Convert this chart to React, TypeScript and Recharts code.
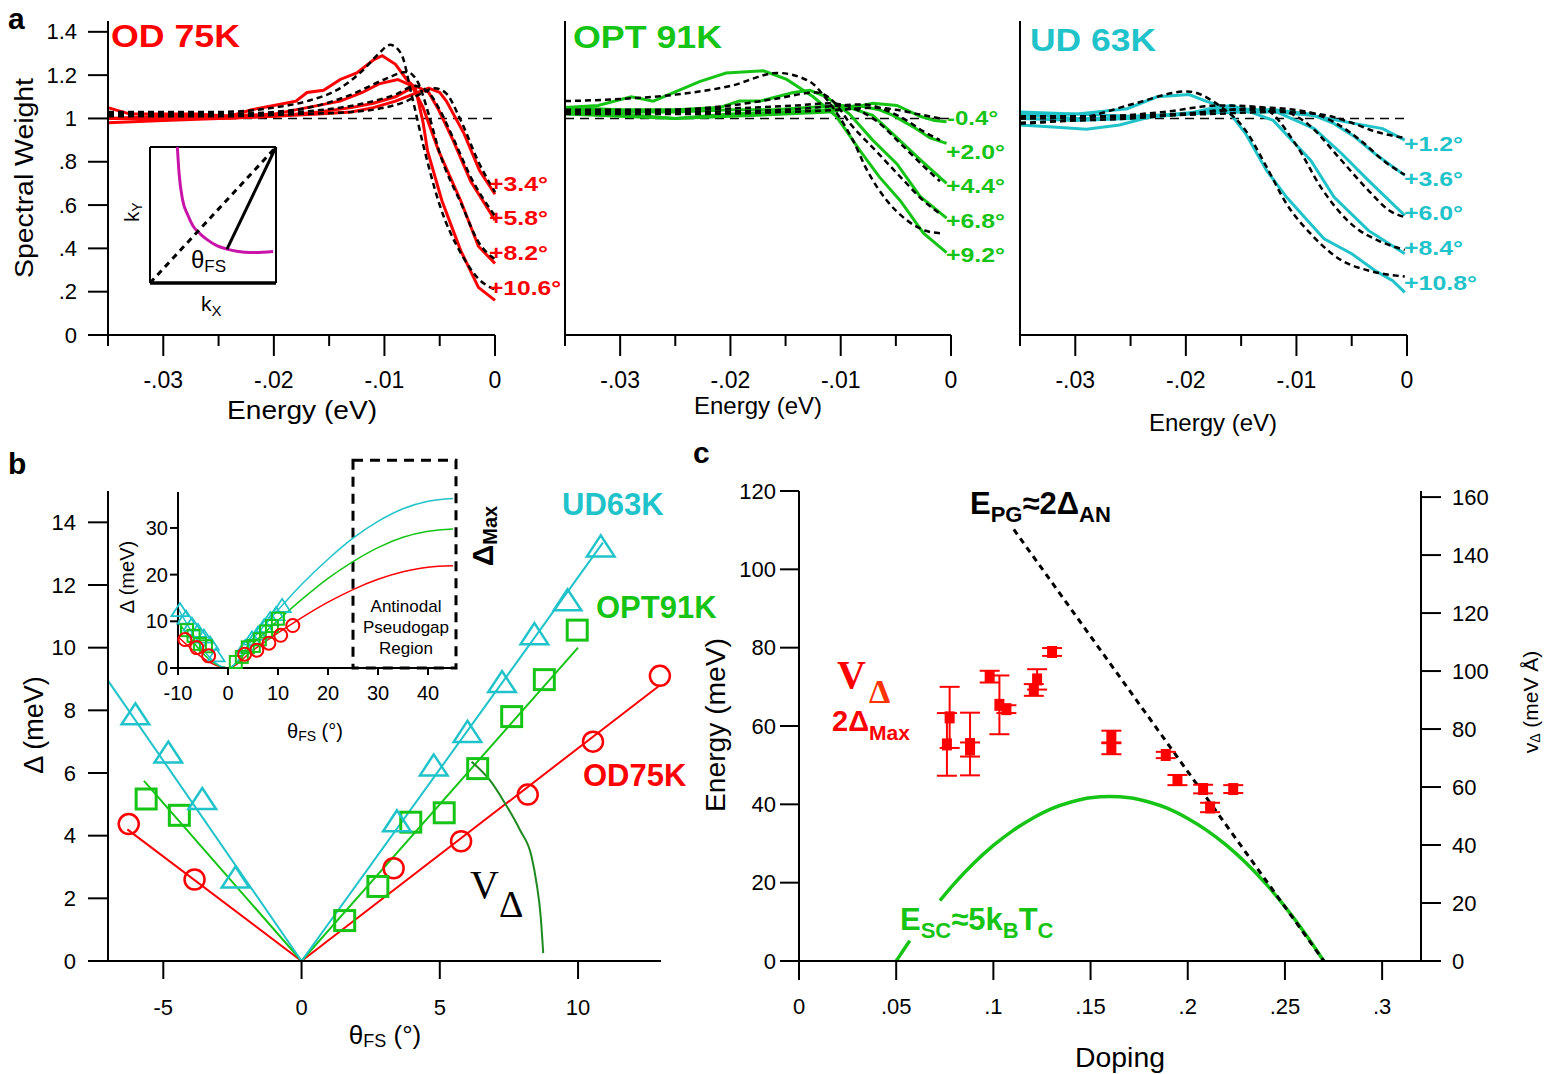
import React from "react";
import {
  ComposedChart,
  LineChart,
  Line,
  Scatter,
  XAxis,
  YAxis,
  ReferenceLine,
  ReferenceArea,
  ErrorBar,
} from "recharts";

const RED = "#ff0000";
const GREEN = "#16c416";
const CYAN = "#1fc3c9";
const MAGENTA = "#c814a8";
const DARK_GREEN = "#1f8a1f";
const FONT = '"Liberation Sans", Arial, Helvetica, sans-serif';
const SERIF = '"Liberation Serif", "Times New Roman", serif';

type P = [number, number | null];
const pts = (a: P[]) => a.map(([x, y]) => ({ x, y }));

// ---------- panel a : spectral weight vs energy (eV) ----------
const energyTicks = [-0.035, -0.03, -0.025, -0.02, -0.015, -0.01, -0.005, 0];
const swTicks = [0, 0.2, 0.4, 0.6, 0.8, 1, 1.2, 1.4];

// OD 75K
const od34: P[] = [[-0.035, 1.0], [-0.03, 1.0], [-0.025, 1.0], [-0.02, 1.01], [-0.016, 1.02], [-0.013, 1.03], [-0.011, 1.05], [-0.009, 1.08], [-0.0075, 1.11], [-0.006, 1.14], [-0.005, 1.12], [-0.0044, 1.08], [-0.0028, 0.93], [-0.0014, 0.76], [0, 0.65]];
const od34Fit: P[] = [[-0.035, 1.01], [-0.025, 1.01], [-0.018, 1.02], [-0.013, 1.03], [-0.01, 1.05], [-0.008, 1.08], [-0.0065, 1.12], [-0.0055, 1.14], [-0.0045, 1.12], [-0.003, 0.98], [-0.0015, 0.8], [0, 0.66]];
const od58: P[] = [[-0.035, 0.98], [-0.03, 0.99], [-0.025, 1.0], [-0.02, 1.01], [-0.016, 1.03], [-0.013, 1.05], [-0.011, 1.07], [-0.009, 1.1], [-0.0072, 1.15], [-0.006, 1.12], [-0.0051, 1.04], [-0.0038, 0.9], [-0.0022, 0.71], [0, 0.53]];
const od58Fit: P[] = [[-0.035, 1.02], [-0.025, 1.02], [-0.018, 1.03], [-0.014, 1.05], [-0.011, 1.08], [-0.009, 1.11], [-0.0072, 1.15], [-0.006, 1.12], [-0.005, 1.04], [-0.0037, 0.9], [-0.0021, 0.72], [0, 0.55]];
const od82: P[] = [[-0.035, 1.0], [-0.03, 1.01], [-0.025, 1.01], [-0.02, 1.02], [-0.017, 1.05], [-0.014, 1.08], [-0.012, 1.12], [-0.0105, 1.16], [-0.0088, 1.18], [-0.0075, 1.15], [-0.0065, 1.05], [-0.0051, 0.85], [-0.0031, 0.62], [-0.0015, 0.41], [0, 0.33]];
const od82Fit: P[] = [[-0.035, 1.02], [-0.025, 1.02], [-0.02, 1.03], [-0.016, 1.06], [-0.013, 1.11], [-0.01, 1.18], [-0.008, 1.215], [-0.007, 1.17], [-0.006, 1.02], [-0.005, 0.84], [-0.003, 0.6], [-0.0015, 0.43], [0, 0.35]];
const od106: P[] = [[-0.035, 1.05], [-0.033, 1.02], [-0.03, 1.02], [-0.027, 1.02], [-0.024, 1.01], [-0.022, 1.04], [-0.02, 1.06], [-0.018, 1.08], [-0.017, 1.12], [-0.0155, 1.13], [-0.014, 1.18], [-0.0125, 1.21], [-0.011, 1.27], [-0.0102, 1.29], [-0.009, 1.25], [-0.008, 1.18], [-0.0072, 1.14], [-0.0065, 0.98], [-0.0061, 0.85], [-0.0048, 0.62], [-0.0031, 0.39], [-0.0015, 0.22], [0, 0.16]];
const od106Fit: P[] = [[-0.035, 1.03], [-0.03, 1.03], [-0.025, 1.03], [-0.02, 1.05], [-0.017, 1.08], [-0.014, 1.14], [-0.012, 1.22], [-0.0105, 1.3], [-0.0095, 1.34], [-0.0085, 1.3], [-0.0075, 1.1], [-0.0065, 0.88], [-0.005, 0.6], [-0.003, 0.37], [-0.0015, 0.26], [0, 0.21]];

// OPT 91K
const optM04: P[] = [[-0.035, 1.02], [-0.03, 1.01], [-0.025, 1.0], [-0.02, 1.01], [-0.015, 1.02], [-0.011, 1.03], [-0.009, 1.05], [-0.0071, 1.07], [-0.0049, 1.06], [-0.0028, 1.01], [-0.0015, 0.99], [-0.0004, 0.985]];
const optM04Fit: P[] = [[-0.035, 1.02], [-0.025, 1.02], [-0.015, 1.03], [-0.01, 1.04], [-0.007, 1.05], [-0.005, 1.04], [-0.003, 1.02], [-0.001, 1.0]];
const opt20: P[] = [[-0.035, 1.03], [-0.03, 1.02], [-0.025, 1.0], [-0.02, 1.02], [-0.015, 1.03], [-0.011, 1.04], [-0.0085, 1.06], [-0.0065, 1.04], [-0.0053, 1.015], [-0.0034, 0.96], [-0.0019, 0.91], [-0.0004, 0.885]];
const opt20Fit: P[] = [[-0.035, 1.03], [-0.025, 1.03], [-0.015, 1.04], [-0.01, 1.06], [-0.008, 1.065], [-0.006, 1.04], [-0.004, 0.99], [-0.0025, 0.94], [-0.001, 0.9]];
const opt44: P[] = [[-0.035, 1.04], [-0.03, 1.03], [-0.025, 1.03], [-0.02, 1.04], [-0.016, 1.04], [-0.013, 1.05], [-0.0098, 1.06], [-0.0071, 1.015], [-0.0053, 0.93], [-0.0028, 0.81], [-0.0004, 0.7]];
const opt44Fit: P[] = [[-0.035, 1.04], [-0.025, 1.04], [-0.018, 1.05], [-0.014, 1.06], [-0.011, 1.07], [-0.009, 1.05], [-0.0068, 0.99], [-0.0045, 0.88], [-0.0025, 0.78], [-0.001, 0.71]];
const opt68: P[] = [[-0.035, 1.05], [-0.03, 1.04], [-0.025, 1.04], [-0.021, 1.05], [-0.0192, 1.08], [-0.0173, 1.08], [-0.0143, 1.12], [-0.0128, 1.13], [-0.0113, 1.1], [-0.0092, 1.02], [-0.0071, 0.9], [-0.0049, 0.79], [-0.0028, 0.64], [-0.0004, 0.54]];
const opt68Fit: P[] = [[-0.035, 1.03], [-0.025, 1.04], [-0.02, 1.06], [-0.016, 1.09], [-0.0122, 1.12], [-0.0105, 1.07], [-0.0092, 0.98], [-0.0068, 0.85], [-0.0044, 0.72], [-0.0025, 0.62], [-0.001, 0.56]];
const opt92: P[] = [[-0.035, 1.05], [-0.032, 1.06], [-0.029, 1.1], [-0.027, 1.08], [-0.0228, 1.17], [-0.0204, 1.21], [-0.017, 1.22], [-0.0149, 1.18], [-0.0125, 1.1], [-0.0104, 1.01], [-0.0083, 0.855], [-0.0065, 0.73], [-0.0046, 0.62], [-0.0025, 0.47], [-0.0004, 0.38]];
const opt92Fit: P[] = [[-0.035, 1.08], [-0.03, 1.09], [-0.025, 1.11], [-0.02, 1.15], [-0.0157, 1.21], [-0.0128, 1.17], [-0.0113, 1.09], [-0.0089, 0.9], [-0.0076, 0.76], [-0.0058, 0.62], [-0.004, 0.53], [-0.0022, 0.48], [-0.001, 0.47]];

// UD 63K
const ud12: P[] = [[-0.035, 1.02], [-0.03, 1.0], [-0.025, 1.0], [-0.02, 1.02], [-0.015, 1.03], [-0.0118, 1.03], [-0.0087, 1.015], [-0.0047, 0.976], [-0.0022, 0.953], [-0.0002, 0.9]];
const ud12Fit: P[] = [[-0.035, 1.0], [-0.025, 1.01], [-0.018, 1.02], [-0.012, 1.03], [-0.008, 1.02], [-0.005, 0.98], [-0.0029, 0.94], [-0.0002, 0.91]];
const ud36: P[] = [[-0.035, 1.03], [-0.03, 1.02], [-0.025, 1.01], [-0.02, 1.02], [-0.016, 1.04], [-0.012, 1.04], [-0.0087, 1.02], [-0.0066, 0.976], [-0.0047, 0.914], [-0.0029, 0.837], [-0.0002, 0.737]];
const ud36Fit: P[] = [[-0.035, 1.0], [-0.025, 1.01], [-0.018, 1.03], [-0.013, 1.05], [-0.009, 1.03], [-0.0065, 0.98], [-0.004, 0.89], [-0.002, 0.8], [-0.0002, 0.74]];
const ud60: P[] = [[-0.035, 0.97], [-0.032, 0.96], [-0.029, 0.95], [-0.026, 0.97], [-0.023, 1.01], [-0.019, 1.03], [-0.016, 1.05], [-0.0118, 1.03], [-0.0084, 0.953], [-0.0059, 0.837], [-0.0035, 0.714], [-0.0002, 0.552]];
const ud60Fit: P[] = [[-0.035, 0.98], [-0.03, 0.99], [-0.025, 1.0], [-0.02, 1.02], [-0.016, 1.04], [-0.012, 1.04], [-0.009, 0.976], [-0.0062, 0.822], [-0.0035, 0.668], [-0.0016, 0.575], [-0.0002, 0.544]];
const ud84: P[] = [[-0.035, 1.0], [-0.03, 0.99], [-0.025, 1.0], [-0.02, 1.02], [-0.0175, 1.05], [-0.0158, 1.06], [-0.0121, 0.991], [-0.0087, 0.806], [-0.0066, 0.637], [-0.0035, 0.483], [-0.0002, 0.375]];
const ud84Fit: P[] = [[-0.035, 1.01], [-0.028, 1.01], [-0.022, 1.03], [-0.017, 1.06], [-0.0133, 1.053], [-0.0099, 0.868], [-0.0078, 0.683], [-0.0047, 0.498], [-0.0026, 0.436], [-0.0002, 0.393]];
const ud108: P[] = [[-0.035, 1.01], [-0.03, 1.02], [-0.0253, 1.045], [-0.0226, 1.1], [-0.0197, 1.11], [-0.0182, 1.08], [-0.0164, 1.05], [-0.0146, 0.93], [-0.0127, 0.76], [-0.0109, 0.637], [-0.009, 0.529], [-0.0075, 0.444], [-0.005, 0.375], [-0.0029, 0.298], [-0.0013, 0.251], [-0.0002, 0.197]];
const ud108Fit: P[] = [[-0.035, 0.976], [-0.029, 1.007], [-0.0247, 1.068], [-0.0199, 1.125], [-0.017, 1.06], [-0.0146, 0.945], [-0.0127, 0.776], [-0.0109, 0.606], [-0.0087, 0.467], [-0.0059, 0.344], [-0.0035, 0.298], [-0.0002, 0.27]];

// schematic inset of panel a (normalised box coordinates)
const fsCurve: P[] = [[0.217, 1.0], [0.231, 0.805], [0.259, 0.61], [0.3, 0.5], [0.344, 0.415], [0.4, 0.36], [0.456, 0.317], [0.53, 0.275], [0.611, 0.249], [0.7, 0.232], [0.794, 0.224], [0.977, 0.232]];
const diagCut: P[] = [[0, 0], [1, 1]];
const fsCut: P[] = [[0.611, 0.249], [1, 1]];

// ---------- panel b : gap vs Fermi-surface angle ----------
const udGap: P[] = [[-6.01, 7.84], [-4.82, 6.62], [-3.59, 5.14], [-2.39, 2.63], [3.45, 4.43], [4.78, 6.21], [6.0, 7.28], [7.25, 8.87], [8.42, 10.4], [9.62, 11.48], [10.82, 13.2]];
const optGap: P[] = [[-5.62, 5.17], [-4.42, 4.65], [1.56, 1.29], [2.76, 2.38], [3.95, 4.43], [5.16, 4.73], [6.37, 6.14], [7.6, 7.8], [8.78, 8.98], [9.97, 10.56]];
const odGap: P[] = [[-6.25, 4.37], [-3.87, 2.6], [3.33, 2.96], [5.77, 3.82], [8.18, 5.31], [10.54, 7.0], [12.96, 9.1]];
const udLine: P[] = [[-7, 8.95], [0, 0], [10.9, 13.35]];
const optLine: P[] = [[-5.7, 5.75], [0, 0], [10, 10]];
const odLine: P[] = [[-6.3, 4.2], [0, 0], [12.96, 8.8]];
const vDeltaCurve: P[] = [[6.15, 6.36], [6.81, 5.77], [7.36, 5.03], [7.9, 4.18], [8.32, 3.33], [8.5, 2.48], [8.65, 1.41], [8.74, 0.25]];

const udInsetExtra: P[] = [[-9.6, 12.3], [-8.4, 10.7], [-7.2, 9.2]];
const optInsetExtra: P[] = [[-8.2, 8.1], [-6.9, 6.9]];
const odInsetExtra: P[] = [[-8.6, 6.1]];
const udInsetLine: P[] = [[-10, 12.8], [0, 0], [5, 6.3], [10, 12.4], [15, 18.2], [20, 23.3], [25, 27.8], [30, 31.4], [35, 34.1], [40, 35.7], [45, 36.3]];
const optInsetLine: P[] = [[-10, 9.9], [0, 0], [5, 5.2], [10, 10.2], [15, 14.9], [20, 19.2], [25, 22.8], [30, 25.8], [35, 28.0], [40, 29.3], [45, 29.8]];
const odInsetLine: P[] = [[-10, 6.7], [0, 0], [5, 3.8], [10, 7.5], [15, 10.95], [20, 14.1], [25, 16.8], [30, 19.0], [35, 20.6], [40, 21.6], [45, 21.9]];

// ---------- panel c : energy scales vs doping ----------
const vdDoping = [0.0775, 0.0761, 0.088, 0.088, 0.0981, 0.1031, 0.1067, 0.1225, 0.1208, 0.1302, 0.1607, 0.1607, 0.1887, 0.1947, 0.2079, 0.2115, 0.2234];
const vdEnergy = [62.2, 55.3, 55.4, 54.0, 72.6, 65.4, 64.3, 71.9, 69.2, 78.9, 57.2, 54.3, 52.6, 46.2, 43.9, 39.2, 43.9];
const vdError = [7.8, 8.0, 8.0, 1.8, 1.5, 7.5, 1.0, 2.6, 1.5, 1.0, 1.6, 1.5, 0.8, 1.3, 1.1, 1.2, 1.0];
const epgLine: P[] = [[0.1105, 110.2], [0.27, 0]];
const escCurve: P[] = [[0.05, 0], [0.0535, 2.6], [0.057, 5.2], [0.064, null], [0.0725, 15.4], [0.08, 19.8], [0.09, 25.0], [0.1, 29.5], [0.11, 33.3], [0.12, 36.4], [0.13, 38.9], [0.14, 40.6], [0.15, 41.7], [0.16, 42.0], [0.17, 41.7], [0.18, 40.6], [0.19, 38.9], [0.2, 36.4], [0.21, 33.3], [0.22, 29.5], [0.23, 25.0], [0.24, 19.8], [0.25, 13.9], [0.26, 7.3], [0.27, 0]];
const dopingTicks = [0, 0.05, 0.1, 0.15, 0.2, 0.25, 0.3];
const energyMeVTicks = [0, 20, 40, 60, 80, 100, 120];
const velocityTicks = [0, 20, 40, 60, 80, 100, 120, 140, 160];

const vdPoints = vdDoping.map((x, i) => ({ x, y: vdEnergy[i], err: vdError[i] }));

// ---------- layout helpers ----------
const PL = 90, PR = 80, PB = 80;
function frame(l: number, t: number, r: number, b: number, rightAxis = false, PT = 20) {
  return {
    pos: { position: "absolute" as const, left: l - PL, top: t - PT },
    width: r - l + PL + PR,
    height: b - t + PT + PB,
    margin: { left: PL - 50, top: PT, right: rightAxis ? PR - 50 : PR, bottom: PB - 30 },
  };
}
const axisLine = { stroke: "#000", strokeWidth: 2 };

const bottomTick = (len: number, off: number, fs: number, fmt: (v: number) => string) => (p: any) => (
  <g>
    <line x1={p.x} y1={p.y} x2={p.x} y2={p.y + len} stroke="#000" strokeWidth={2} />
    <text x={p.x} y={p.y + off} textAnchor="middle" dominantBaseline="central" fontSize={fs} fill="#000">
      {fmt(p.payload.value)}
    </text>
  </g>
);
const leftTick = (len: number, off: number, fs: number, fmt: (v: number) => string) => (p: any) => (
  <g>
    <line x1={p.x} y1={p.y} x2={p.x - len} y2={p.y} stroke="#000" strokeWidth={2} />
    <text x={p.x - off} y={p.y} textAnchor="end" dominantBaseline="central" fontSize={fs} fill="#000">
      {fmt(p.payload.value)}
    </text>
  </g>
);
const rightTick = (len: number, off: number, fs: number, fmt: (v: number) => string) => (p: any) => (
  <g>
    <line x1={p.x} y1={p.y} x2={p.x + len} y2={p.y} stroke="#000" strokeWidth={2} />
    <text x={p.x + off} y={p.y} textAnchor="start" dominantBaseline="central" fontSize={fs} fill="#000">
      {fmt(p.payload.value)}
    </text>
  </g>
);

const energyTick = (p: any) => {
  const k = Math.round(-p.payload.value * 1000);
  const major = k % 10 === 0;
  return (
    <g>
      <line x1={p.x} y1={p.y} x2={p.x} y2={p.y + (major ? 21 : 11)} stroke="#000" strokeWidth={2} />
      {major && (
        <text x={p.x} y={p.y + 45} textAnchor="middle" dominantBaseline="central" fontSize={23} fill="#000">
          {k === 0 ? "0" : "-.0" + k / 10}
        </text>
      )}
    </g>
  );
};
const swLabel = (v: number) => (v === 0 || v === 1 ? String(v) : v < 1 ? String(v).slice(1) : String(v));
const plain = (v: number) => String(v);
const dopingLabel = (v: number) => (v === 0 ? "0" : String(v).slice(1));

const circle = (r: number, sw: number) => (p: any) => (
  <circle cx={p.cx} cy={p.cy} r={r} fill="none" stroke={RED} strokeWidth={sw} />
);
const square = (h: number, sw: number) => (p: any) => (
  <rect x={p.cx - h} y={p.cy - h} width={2 * h} height={2 * h} fill="none" stroke={GREEN} strokeWidth={sw} />
);
const triangle = (h: number, sw: number) => (p: any) => (
  <polygon
    points={`${p.cx},${p.cy - h} ${p.cx - h * 1.15},${p.cy + h * 0.75} ${p.cx + h * 1.15},${p.cy + h * 0.75}`}
    fill="none"
    stroke={CYAN}
    strokeWidth={sw}
  />
);
const filledSquare = (p: any) => <rect x={p.cx - 5} y={p.cy - 6} width={10} height={12} fill={RED} />;

// ---------- panel a spectra ----------
type Curve = { solid: P[]; fit: P[] };
function Spectra({ left, right, curves, color, showY }: { left: number; right: number; curves: Curve[]; color: string; showY: boolean }) {
  const f = frame(left, 21, right, 335);
  return (
    <div style={f.pos}>
      <LineChart width={f.width} height={f.height} margin={f.margin}>
        <XAxis type="number" dataKey="x" domain={[-0.035, 0]} ticks={energyTicks} interval={0} height={30}
          tickSize={0} tickMargin={0} tickLine={false} tick={energyTick} axisLine={axisLine} />
        <YAxis type="number" domain={[0, 1.45]} ticks={swTicks} interval={0} width={50} tickSize={0} tickMargin={0}
          tickLine={false} tick={showY ? leftTick(20, 31, 22, swLabel) : false} axisLine={axisLine} />
        <ReferenceLine y={1} stroke="#000" strokeWidth={1.5} strokeDasharray="9 6" />
        {curves.map((c, i) => (
          <Line key={"s" + i} data={pts(c.solid)} dataKey="y" type="linear" stroke={color} strokeWidth={3}
            dot={false} activeDot={false} isAnimationActive={false} />
        ))}
        {curves.map((c, i) => (
          <Line key={"f" + i} data={pts(c.fit)} dataKey="y" type="monotone" stroke="#000" strokeWidth={2.5}
            strokeDasharray="6 4" dot={false} activeDot={false} isAnimationActive={false} />
        ))}
      </LineChart>
    </div>
  );
}

function FermiSketch() {
  return (
    <div style={{ position: "absolute", left: 145, top: 142 }}>
      <LineChart width={136} height={146} margin={{ left: 5, right: 5, top: 5, bottom: 5 }}>
        <XAxis type="number" dataKey="x" domain={[0, 1]} hide />
        <YAxis type="number" domain={[0, 1]} hide />
        <ReferenceLine x={0} stroke="#000" strokeWidth={2} />
        <ReferenceLine x={1} stroke="#000" strokeWidth={2} />
        <ReferenceLine y={1} stroke="#000" strokeWidth={2} />
        <ReferenceLine y={0} stroke="#000" strokeWidth={3.5} />
        <Line data={pts(fsCurve)} dataKey="y" type="monotone" stroke={MAGENTA} strokeWidth={3} dot={false} activeDot={false} isAnimationActive={false} />
        <Line data={pts(diagCut)} dataKey="y" type="linear" stroke="#000" strokeWidth={3} strokeDasharray="6 5" dot={false} activeDot={false} isAnimationActive={false} />
        <Line data={pts(fsCut)} dataKey="y" type="linear" stroke="#000" strokeWidth={3} dot={false} activeDot={false} isAnimationActive={false} />
      </LineChart>
    </div>
  );
}

// ---------- panel b ----------
function GapPanel() {
  const f = frame(108, 491, 661, 961);
  const ln = { dot: false, activeDot: false, isAnimationActive: false, type: "linear" as const, dataKey: "y", strokeWidth: 2 };
  return (
    <div style={f.pos}>
      <ComposedChart width={f.width} height={f.height} margin={f.margin}>
        <XAxis type="number" dataKey="x" domain={[-7, 13]} ticks={[-5, 0, 5, 10]} interval={0} height={30}
          tickSize={0} tickMargin={0} tickLine={false} tick={bottomTick(18, 46, 22, plain)} axisLine={axisLine} />
        <YAxis type="number" dataKey="y" domain={[0, 15]} ticks={[0, 2, 4, 6, 8, 10, 12, 14]} interval={0} width={50}
          tickSize={0} tickMargin={0} tickLine={false} tick={leftTick(20, 32, 22, plain)} axisLine={axisLine} />
        <Line {...ln} data={pts(odLine)} stroke={RED} />
        <Line {...ln} data={pts(optLine)} stroke={GREEN} />
        <Line {...ln} data={pts(udLine)} stroke={CYAN} />
        <Line {...ln} data={pts(vDeltaCurve)} type="monotone" stroke={DARK_GREEN} strokeWidth={2} />
        <Scatter data={pts(odGap)} shape={circle(10, 2.5)} isAnimationActive={false} />
        <Scatter data={pts(optGap)} shape={square(10, 3)} isAnimationActive={false} />
        <Scatter data={pts(udGap)} shape={triangle(12, 2.5)} isAnimationActive={false} />
      </ComposedChart>
    </div>
  );
}

function GapInset() {
  const f = frame(178, 492, 455.5, 668, false, 45);
  const ln = { dot: false, activeDot: false, isAnimationActive: false, type: "monotone" as const, dataKey: "y", strokeWidth: 1.5 };
  return (
    <div style={f.pos}>
      <ComposedChart width={f.width} height={f.height} margin={f.margin}>
        <XAxis type="number" dataKey="x" domain={[-10, 45.5]} ticks={[-10, 0, 10, 20, 30, 40]} interval={0} height={30}
          tickSize={0} tickMargin={0} tickLine={false} tick={bottomTick(7, 25, 20, plain)} axisLine={axisLine} />
        <YAxis type="number" dataKey="y" domain={[0, 37.7]} ticks={[0, 10, 20, 30]} interval={0} width={50}
          tickSize={0} tickMargin={0} tickLine={false} tick={leftTick(8, 10, 20, plain)} axisLine={axisLine} />
        <ReferenceArea x1={25} x2={45.6} y1={0} y2={44.5} ifOverflow="visible" fill="none" stroke="#000"
          strokeWidth={3} strokeDasharray="10 7" />
        <Line {...ln} data={pts(odInsetLine)} stroke={RED} />
        <Line {...ln} data={pts(optInsetLine)} stroke={GREEN} />
        <Line {...ln} data={pts(udInsetLine)} stroke={CYAN} />
        <Scatter data={pts([...udInsetExtra, ...udGap])} shape={triangle(7.5, 1.8)} isAnimationActive={false} />
        <Scatter data={pts([...optInsetExtra, ...optGap])} shape={square(6, 2)} isAnimationActive={false} />
        <Scatter data={pts([...odInsetExtra, ...odGap])} shape={circle(6.5, 2)} isAnimationActive={false} />
      </ComposedChart>
    </div>
  );
}

// ---------- panel c ----------
function DopingPanel() {
  const f = frame(799, 491, 1421, 961, true);
  return (
    <div style={f.pos}>
      <ComposedChart width={f.width} height={f.height} margin={f.margin}>
        <XAxis type="number" dataKey="x" domain={[0, 0.32]} ticks={dopingTicks} interval={0} height={30}
          tickSize={0} tickMargin={0} tickLine={false} tick={bottomTick(19, 45, 22, dopingLabel)} axisLine={axisLine} />
        <YAxis yAxisId="l" type="number" dataKey="y" domain={[0, 120]} ticks={energyMeVTicks} interval={0} width={50}
          tickSize={0} tickMargin={0} tickLine={false} tick={leftTick(19, 23, 22, plain)} axisLine={axisLine} />
        <YAxis yAxisId="r" orientation="right" type="number" domain={[0, 162.1]} ticks={velocityTicks} interval={0} width={50}
          tickSize={0} tickMargin={0} tickLine={false} tick={rightTick(20, 31, 22, plain)} axisLine={axisLine} allowDataOverflow />
        <Line yAxisId="l" data={pts(escCurve)} dataKey="y" type="monotone" stroke={GREEN} strokeWidth={3.5}
          connectNulls={false} dot={false} activeDot={false} isAnimationActive={false} />
        <Line yAxisId="l" data={pts(epgLine)} dataKey="y" type="linear" stroke="#000" strokeWidth={3}
          strokeDasharray="6 5" dot={false} activeDot={false} isAnimationActive={false} />
        <Scatter yAxisId="l" data={vdPoints} shape={filledSquare} isAnimationActive={false}>
          <ErrorBar dataKey="err" direction="y" width={10} stroke={RED} strokeWidth={2} />
        </Scatter>
      </ComposedChart>
    </div>
  );
}

// ---------- text layer ----------
const angleLabels: { x: number; y: number; t: string; c: string; w: number }[] = [
  { x: 489, y: 183, t: "+3.4°", c: RED, w: 59 }, { x: 489, y: 217, t: "+5.8°", c: RED, w: 59 },
  { x: 489, y: 252, t: "+8.2°", c: RED, w: 59 }, { x: 489, y: 287, t: "+10.6°", c: RED, w: 72 },
  { x: 947, y: 117, t: "-0.4°", c: GREEN, w: 51 }, { x: 946, y: 151, t: "+2.0°", c: GREEN, w: 59 },
  { x: 946, y: 185, t: "+4.4°", c: GREEN, w: 59 }, { x: 946, y: 220, t: "+6.8°", c: GREEN, w: 59 },
  { x: 946, y: 254, t: "+9.2°", c: GREEN, w: 59 },
  { x: 1404, y: 143, t: "+1.2°", c: CYAN, w: 59 }, { x: 1404, y: 178, t: "+3.6°", c: CYAN, w: 59 },
  { x: 1404, y: 212, t: "+6.0°", c: CYAN, w: 59 }, { x: 1404, y: 247, t: "+8.4°", c: CYAN, w: 59 },
  { x: 1404, y: 282, t: "+10.8°", c: CYAN, w: 73 },
];

function Annotations() {
  const mid = { textAnchor: "middle" as const, dominantBaseline: "central" as const };
  const fit = { lengthAdjust: "spacingAndGlyphs" as const };
  return (
    <svg width={1549} height={1074} style={{ position: "absolute", left: 0, top: 0, pointerEvents: "none" }} fontFamily={FONT}>
      {/* panel a */}
      <text x={8} y={29} fontSize={30} fontWeight="bold">a</text>
      <text transform="translate(24,178) rotate(-90)" {...mid} fontSize={26} textLength={200} {...fit}>Spectral Weight</text>
      <text x={111} y={47} fontSize={31} fontWeight="bold" fill={RED} textLength={129} {...fit}>OD 75K</text>
      <text x={573} y={48} fontSize={31} fontWeight="bold" fill={GREEN} textLength={149} {...fit}>OPT 91K</text>
      <text x={1030} y={51} fontSize={31} fontWeight="bold" fill={CYAN} textLength={126} {...fit}>UD 63K</text>
      {angleLabels.map((a) => (
        <text key={a.t + a.x} x={a.x} y={a.y} dominantBaseline="central" fontSize={21} fontWeight="bold" fill={a.c}
          textLength={a.w} {...fit}>{a.t}</text>
      ))}
      <text x={302} y={410} {...mid} fontSize={26} textLength={150} {...fit}>Energy (eV)</text>
      <text x={758} y={405} {...mid} fontSize={24}>Energy (eV)</text>
      <text x={1213} y={422} {...mid} fontSize={24}>Energy (eV)</text>
      <text transform="translate(132,212) rotate(-90)" {...mid} fontSize={20}>k<tspan fontSize={14} dy={5}>Y</tspan></text>
      <text x={191} y={268} fontSize={24}>θ<tspan fontSize={17} dy={4}>FS</tspan></text>
      <text x={201} y={311} fontSize={21}>k<tspan fontSize={15} dy={5}>X</tspan></text>

      {/* panel b */}
      <text x={8} y={474} fontSize={30} fontWeight="bold">b</text>
      <text transform="translate(34,725) rotate(-90)" {...mid} fontSize={27}>Δ (meV)</text>
      <text x={385} y={1035} {...mid} fontSize={26}>θ<tspan fontSize={18} dy={6}>FS</tspan><tspan dy={-6}> (°)</tspan></text>
      <text transform="translate(127,577) rotate(-90)" {...mid} fontSize={20}>Δ (meV)</text>
      <text x={315} y={731} {...mid} fontSize={20}>θ<tspan fontSize={14} dy={5}>FS</tspan><tspan dy={-5}> (°)</tspan></text>
      <text x={406} y={606} {...mid} fontSize={17}>Antinodal</text>
      <text x={406} y={627} {...mid} fontSize={17}>Pseudogap</text>
      <text x={406} y={648} {...mid} fontSize={17}>Region</text>
      <text transform="translate(482,536) rotate(-90)" {...mid} fontSize={30} fontWeight="bold">Δ<tspan fontSize={20} dy={8}>Max</tspan></text>
      <text x={562} y={515} fontSize={31} fontWeight="bold" fill={CYAN}>UD63K</text>
      <text x={596} y={618} fontSize={31} fontWeight="bold" fill={GREEN}>OPT91K</text>
      <text x={583} y={786} fontSize={31} fontWeight="bold" fill={RED}>OD75K</text>
      <text x={470} y={898} fontFamily={SERIF} fontSize={40}>V<tspan fontSize={38} dy={19}>Δ</tspan></text>

      {/* panel c */}
      <text x={693} y={463} fontSize={30} fontWeight="bold">c</text>
      <text transform="translate(716,725) rotate(-90)" {...mid} fontSize={27} textLength={174} {...fit}>Energy (meV)</text>
      <text x={1120} y={1058} {...mid} fontSize={27} textLength={90} {...fit}>Doping</text>
      <text transform="translate(1530,702) rotate(-90)" {...mid} fontSize={21}>v<tspan fontSize={14} dy={5}>Δ</tspan><tspan dy={-5}> (meV Å)</tspan></text>
      <text x={970} y={514} fontSize={31} fontWeight="bold">E<tspan fontSize={22} dy={8}>PG</tspan><tspan dy={-8}>≈2Δ</tspan><tspan fontSize={22} dy={8}>AN</tspan></text>
      <text x={900} y={930} fontSize={31} fontWeight="bold" fill={GREEN}>E<tspan fontSize={22} dy={8}>SC</tspan><tspan dy={-8}>≈5k</tspan><tspan fontSize={22} dy={8}>B</tspan><tspan dy={-8}>T</tspan><tspan fontSize={22} dy={8}>C</tspan></text>
      <text x={837} y={688} fontFamily={SERIF} fontSize={40} fontWeight="bold" fill={RED}>V<tspan fontSize={34} dy={15} dx={3} fill="#ff3300">Δ</tspan></text>
      <text x={832} y={731} fontSize={29} fontWeight="bold" fill={RED}>2Δ<tspan fontSize={21} dy={9}>Max</tspan></text>
    </svg>
  );
}

export default function App() {
  return (
    <div style={{ position: "absolute", left: 0, top: 0, width: 1549, height: 1074, background: "#fff", fontFamily: FONT }}>
      <Spectra left={108} right={495} color={RED} showY
        curves={[{ solid: od34, fit: od34Fit }, { solid: od58, fit: od58Fit }, { solid: od82, fit: od82Fit }, { solid: od106, fit: od106Fit }]} />
      <Spectra left={565} right={951} color={GREEN} showY={false}
        curves={[{ solid: optM04, fit: optM04Fit }, { solid: opt20, fit: opt20Fit }, { solid: opt44, fit: opt44Fit }, { solid: opt68, fit: opt68Fit }, { solid: opt92, fit: opt92Fit }]} />
      <Spectra left={1020} right={1407} color={CYAN} showY={false}
        curves={[{ solid: ud12, fit: ud12Fit }, { solid: ud36, fit: ud36Fit }, { solid: ud60, fit: ud60Fit }, { solid: ud84, fit: ud84Fit }, { solid: ud108, fit: ud108Fit }]} />
      <FermiSketch />
      <GapPanel />
      <GapInset />
      <DopingPanel />
      <Annotations />
    </div>
  );
}
